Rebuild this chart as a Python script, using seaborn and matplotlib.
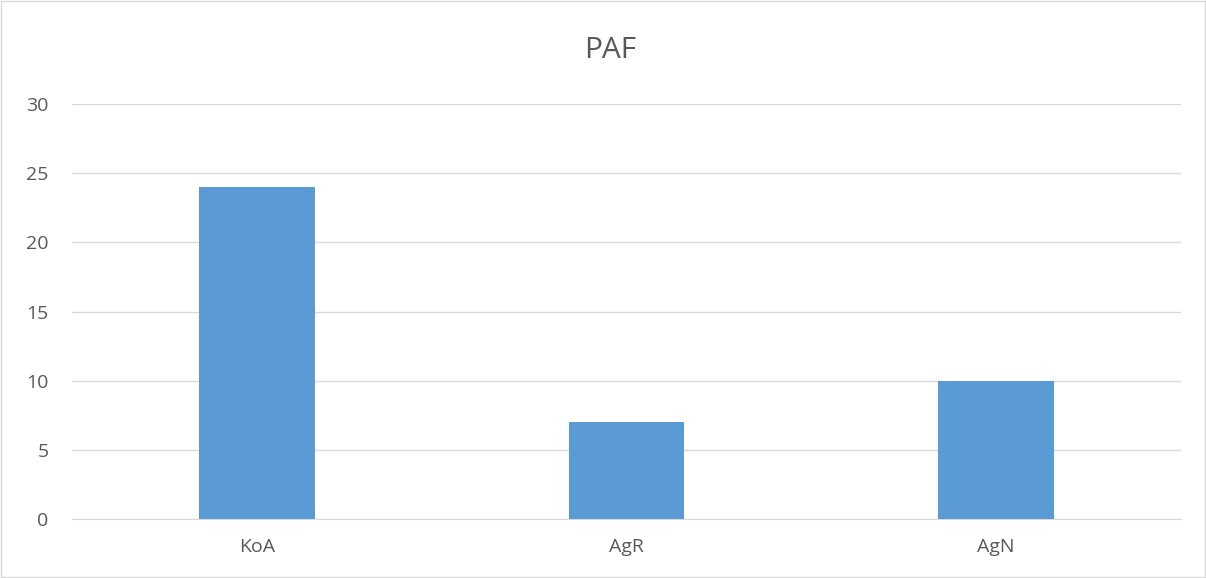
import pandas as pd
import matplotlib.pyplot as plt
import seaborn as sns
from matplotlib.patches import Rectangle

sns.set_style("white")
plt.rcParams['font.family'] = ['Open Sans', 'DejaVu Sans']

# chart data
categories = ['KoA', 'AgR', 'AgN']
values = [24, 7, 10]
yticks = [0, 5, 10, 15, 20, 25, 30]

df = pd.DataFrame({'cat': categories, 'val': values})

fig = plt.figure(figsize=(12.06, 5.78), dpi=100)
ax = fig.add_axes([0.0597, 0.102, 0.9196, 0.718])

sns.barplot(data=df, x='cat', y='val', color='#5B9BD5', width=0.3135,
            saturation=1, linewidth=0, ax=ax, zorder=3)

ax.set_ylim(0, 30)
ax.set_xlim(-0.5, 2.5)
ax.set_yticks(yticks)
ax.yaxis.grid(True, color='#D9D9D9', linewidth=1, zorder=0)
ax.set_xlabel('')
ax.set_ylabel('')
for s in ['top', 'right', 'left']:
    ax.spines[s].set_visible(False)
ax.spines['bottom'].set_color('#D9D9D9')
ax.tick_params(axis='both', length=0, labelsize=14, colors='#595959')
ax.tick_params(axis='y', pad=17)
ax.tick_params(axis='x', pad=14)

fig.text(0.506, 0.913, 'PAF', ha='center', va='center', fontsize=21.5, color='#595959')

# light outer border
fig.patches.append(Rectangle((0.001, 0.002), 0.998, 0.996, transform=fig.transFigure,
                             fill=False, edgecolor='#D9D9D9', linewidth=1))

fig.savefig('out.png', dpi=100)
